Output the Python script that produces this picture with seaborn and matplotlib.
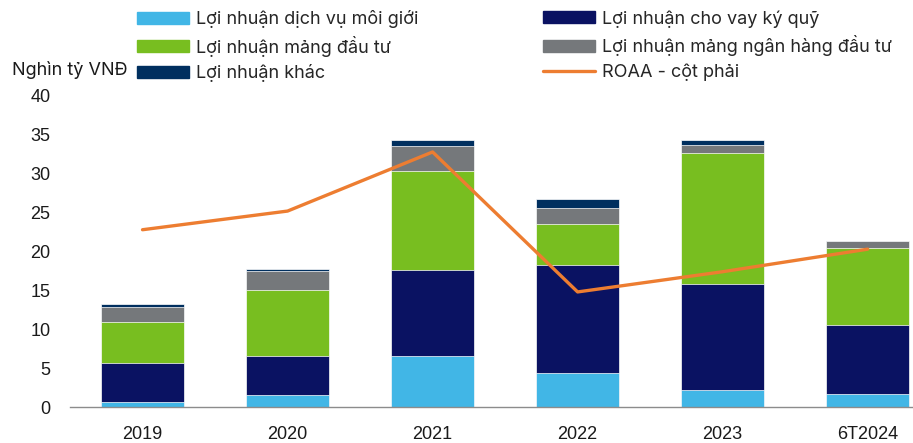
import numpy as np
import pandas as pd
import matplotlib
matplotlib.use("Agg")
import matplotlib.pyplot as plt
import seaborn as sns
from matplotlib.patches import Patch
from matplotlib.lines import Line2D

years = ["2019", "2020", "2021", "2022", "2023", "6T2024"]
moi_gioi = [0.7, 1.6, 6.5, 4.4, 2.25, 1.7]
ky_quy = [4.95, 5.0, 11.1, 13.8, 13.55, 8.8]
dau_tu = [5.3, 8.4, 12.8, 5.3, 16.9, 10.0]
ngan_hang = [1.95, 2.5, 3.2, 2.1, 1.0, 0.8]
khac = [0.3, 0.3, 0.8, 1.2, 0.7, 0.1]
roaa = [11.4, 12.6, 16.4, 7.4, 8.7, 10.15]

series_names = ["Lợi nhuận dịch vụ môi giới", "Lợi nhuận cho vay ký quỹ",
                "Lợi nhuận mảng đầu tư", "Lợi nhuận mảng ngân hàng đầu tư",
                "Lợi nhuận khác"]
series_vals = [moi_gioi, ky_quy, dau_tu, ngan_hang, khac]
colors = ["#41B6E6", "#0A1262", "#78BE20", "#75787B", "#002F5F"]
line_color = "#ED7D31"
roaa_label = "ROAA - cột phải"

sns.set_theme(style="white")
plt.rcParams["font.family"] = ["Liberation Sans", "DejaVu Sans"]

W, H = 913, 443
fig = plt.figure(figsize=(W / 100, H / 100), dpi=100)
ax = fig.add_axes([70 / W, 1 - 407 / H, 1 - 70 / W, (407 - 96) / H])

cum = np.zeros(len(years))
cums = []
for v in series_vals:
    cum = cum + np.array(v)
    cums.append(cum.copy())

# draw from the tallest cumulative stack down so lower segments overlay
for i in range(len(series_vals) - 1, -1, -1):
    d = pd.DataFrame({"year": years, "val": cums[i]})
    sns.barplot(data=d, x="year", y="val", color=colors[i], width=0.57,
                saturation=1, edgecolor="white", linewidth=0.5, ax=ax)

ax.set_xlim(-0.5, 5 + (913 - 867.7) / 145)
ax.set_ylim(0, 40)
ax.set_yticks(range(0, 41, 5))
ax.set_xlabel("")
ax.set_ylabel("")
for s in ["top", "right", "left"]:
    ax.spines[s].set_visible(False)
ax.spines["bottom"].set_color("#8C8C8C")
ax.spines["bottom"].set_linewidth(1.0)
ax.tick_params(axis="both", length=0, labelsize=13, colors="#1a1a1a")
ax.tick_params(axis="y", pad=14)
ax.tick_params(axis="x", pad=14)

ax2 = ax.twinx()
d2 = pd.DataFrame({"x": np.arange(len(years)), "roaa": roaa})
sns.lineplot(data=d2, x="x", y="roaa", color=line_color, linewidth=2.4, ax=ax2)
ax2.set_ylim(0, 20)
ax2.set_xlim(ax.get_xlim())
ax2.axis("off")

lf = ["Inter", "DejaVu Sans"]
h_left = [Patch(color=colors[0]), Patch(color=colors[2]), Patch(color=colors[4])]
l_left = [series_names[0], series_names[2], series_names[4]]
h_right = [Patch(color=colors[1]), Patch(color=colors[3]),
           Line2D([0], [0], color=line_color, linewidth=2.4)]
l_right = [series_names[1], series_names[3], roaa_label]

for hs, ls, x0 in [(h_left, l_left, 137), (h_right, l_right, 543)]:
    fig.legend(hs, ls, loc="upper left", bbox_to_anchor=(x0 / W, 1 - 10 / H),
               frameon=False, borderpad=0, borderaxespad=0,
               handlelength=2.9, handleheight=0.67, handletextpad=0.35,
               labelspacing=0.42, prop={"family": lf, "size": 13})

fig.text(12 / W, 1 - 70 / H, "Nghìn tỷ VNĐ", ha="left", va="center",
         fontsize=13, family=lf, color="#1a1a1a")

fig.savefig("out.png", dpi=100)
